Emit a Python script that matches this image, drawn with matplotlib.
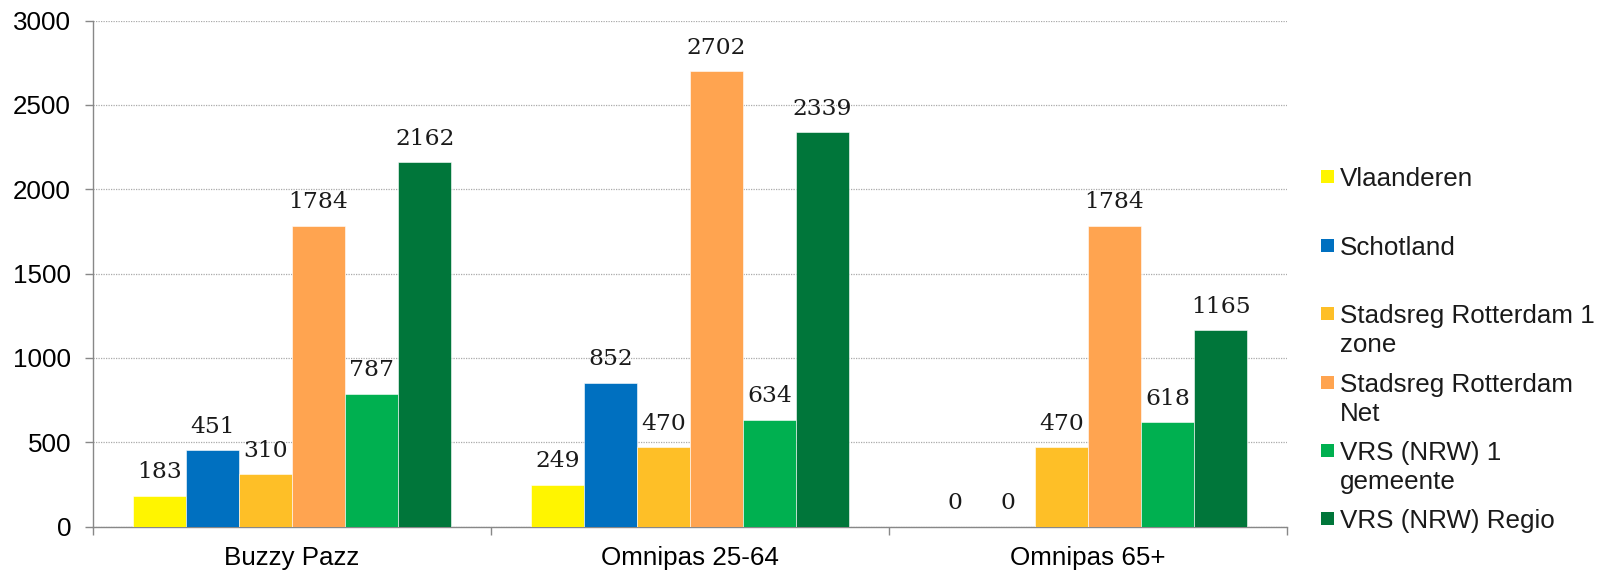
import matplotlib
matplotlib.use("Agg")
import matplotlib.pyplot as plt
import numpy as np
from matplotlib.patches import Rectangle

categories = ["Buzzy Pazz", "Omnipas 25-64", "Omnipas 65+"]
series_names = ["Vlaanderen", "Schotland", "Stadsreg Rotterdam 1\nzone",
                "Stadsreg Rotterdam\nNet", "VRS (NRW) 1\ngemeente", "VRS (NRW) Regio"]
vlaanderen = [183, 249, 0]
schotland = [451, 852, 0]
rotterdam_1zone = [310, 470, 470]
rotterdam_net = [1784, 2702, 1784]
vrs_1gemeente = [787, 634, 618]
vrs_regio = [2162, 2339, 1165]
series_values = [vlaanderen, schotland, rotterdam_1zone, rotterdam_net, vrs_1gemeente, vrs_regio]
colors = ["#FFF500", "#0070C0", "#FEBF27", "#FFA450", "#00B050", "#00763A"]
yticks = [0, 500, 1000, 1500, 2000, 2500, 3000]

SANS = 18.7
W, H, DPI = 1610, 571, 100
fig = plt.figure(figsize=(W / DPI, H / DPI), dpi=DPI)
ax = fig.add_axes([93 / W, 1 - 526.5 / H, (1287 - 93) / W, (526.5 - 20.7) / H])

n = len(series_values)
bw = 0.8 / n
x = np.arange(len(categories))
for i, (vals, c) in enumerate(zip(series_values, colors)):
    pos = x - 0.4 + bw * (i + 0.5)
    ax.bar(pos, vals, width=bw, color=c, edgecolor="white", linewidth=0.4, zorder=3)
    for xp, v in zip(pos, vals):
        ax.annotate(f"{v}", (xp, v), xytext=(0, 12.5), textcoords="offset points",
                    ha="center", va="baseline", fontsize=16.8, family="DejaVu Serif",
                    color="#1a1a1a", zorder=4)

ax.set_xlim(-0.5, len(categories) - 0.5)
ax.set_ylim(0, 3000)
ax.set_yticks(yticks)
ax.set_yticklabels([str(t) for t in yticks], family="Liberation Sans", fontsize=SANS)
ax.set_xticks(x)
ax.set_xticklabels(categories, family="Liberation Sans", fontsize=SANS)
ax.set_xticks(np.arange(len(categories) + 1) - 0.5, minor=True)
ax.tick_params(axis="x", which="major", length=0, pad=14)
ax.tick_params(axis="x", which="minor", length=5.5, color="#888888", width=1)
ax.tick_params(axis="y", length=5.8, color="#888888", width=1, pad=10)
for s in ["top", "right"]:
    ax.spines[s].set_visible(False)
for s in ["left", "bottom"]:
    ax.spines[s].set_color("#888888")
    ax.spines[s].set_linewidth(1)
ax.yaxis.grid(True, linestyle=(0, (1, 1)), color="#aaaaaa", linewidth=0.9, zorder=0)
ax.set_axisbelow(True)

# Legend (Excel style, manually placed)
baselines = [186, 255, 323, 392, 460, 528]
for name, c, b in zip(series_names, colors, baselines):
    fig.patches.append(Rectangle((1321 / W, 1 - (b - 3) / H), 13 / W, 13 / H,
                                 transform=fig.transFigure, facecolor=c, edgecolor="none"))
    lines = name.split("\n")
    for k, line in enumerate(lines):
        fig.text(1340 / W, 1 - (b + 29 * k) / H, line, ha="left", va="baseline",
                 family="Liberation Sans", fontsize=SANS, color="#1a1a1a")

fig.savefig("out.png", dpi=DPI)
